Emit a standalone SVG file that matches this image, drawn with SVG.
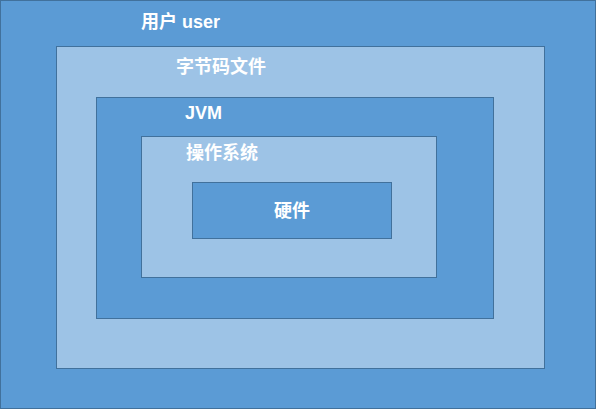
<svg xmlns="http://www.w3.org/2000/svg" width="596" height="409" viewBox="0 0 596 409">
<style>
.d{fill:#5B9BD5;stroke:#41719C;stroke-width:1}
.l{fill:#9DC3E6;stroke:#41719C;stroke-width:1}
.t{fill:#FFFFFF;font-size:18px;font-weight:bold;font-family:"Liberation Sans","Noto Sans CJK SC",sans-serif}
</style>
<g id="user"><rect class="d" x="0.5" y="0.5" width="595" height="408"/><text class="t" x="141" y="28">用户 user</text></g>
<g id="bytecode"><rect class="l" x="56.5" y="46.5" width="488" height="322"/><text class="t" x="176" y="73">字节码文件</text></g>
<g id="jvm"><rect class="d" x="96.5" y="97.5" width="397" height="221"/><text class="t" x="185" y="119">JVM</text></g>
<g id="os"><rect class="l" x="141.5" y="136.5" width="295" height="141"/><text class="t" x="186" y="159">操作系统</text></g>
<g id="hardware"><rect class="d" x="192.5" y="182.5" width="199" height="56"/><text class="t" x="292" y="217" text-anchor="middle">硬件</text></g>
<g id="connectors"/>
</svg>
